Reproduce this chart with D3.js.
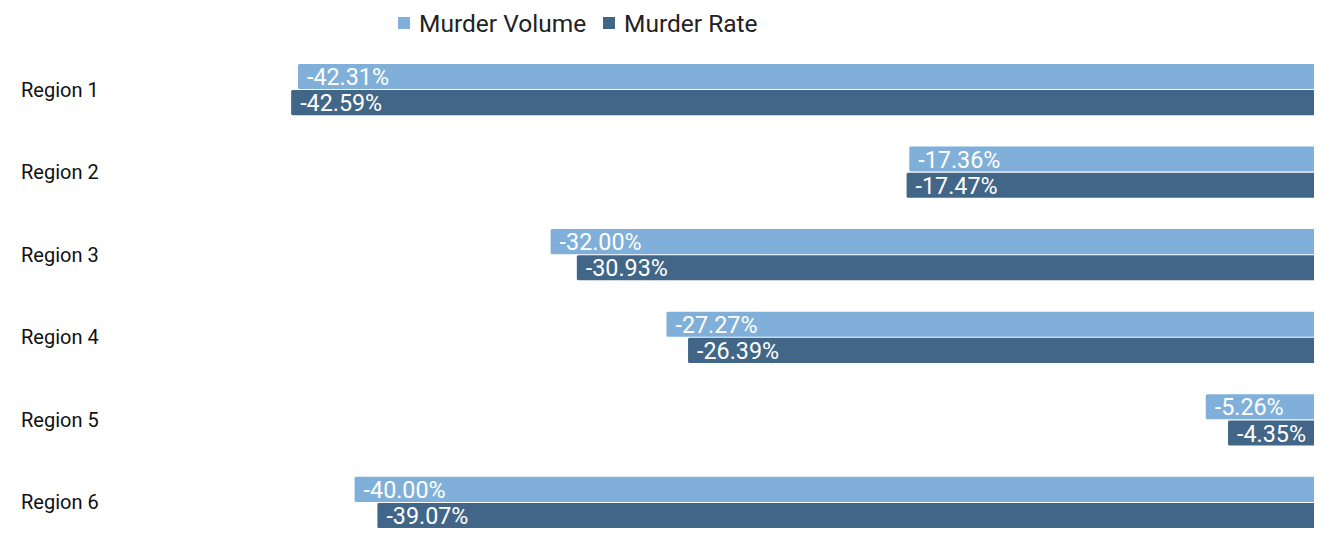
<!DOCTYPE html>
<html>
<head>
<meta charset="utf-8">
<script src="https://cdn.jsdelivr.net/npm/d3@7"></script>
<style>
  body { margin: 0; background: #fff; }
  svg text { font-family: Roboto, "Noto Sans", sans-serif; }
</style>
</head>
<body>
<svg width="1323" height="540"></svg>
<script>
// data
let regions = ["Region 1", "Region 2", "Region 3", "Region 4", "Region 5", "Region 6"];
let seriesNames = ["Murder Volume", "Murder Rate"];
let murderVolume = [-42.31, -17.36, -32.00, -27.27, -5.26, -40.00];
let murderRate = [-42.59, -17.47, -30.93, -26.39, -4.35, -39.07];
let colors = ["#80b0d9", "#426688"];

let rows = regions.map((r, i) => ({
  region: r,
  values: [
    { key: seriesNames[0], value: murderVolume[i] },
    { key: seriesNames[1], value: murderRate[i] }
  ]
}));

let svg = d3.select("svg"),
  width = +svg.attr("width"),
  height = +svg.attr("height");

let plotRight = 1314;

// zero sits just past the right edge of the plot, bars get clipped there
let x = d3.scaleLinear()
  .domain([-44, 0])
  .range([256.6, 1334.6]);

let y = d3.scaleBand()
  .domain(regions)
  .range([32.6, 559.4])
  .padding(0.38);

let ySub = d3.scaleBand()
  .domain(seriesNames)
  .range([0, y.bandwidth()])
  .paddingInner(0.04);

let color = d3.scaleOrdinal()
  .domain(seriesNames)
  .range(colors);

svg.append("defs").append("clipPath")
  .attr("id", "plot-clip")
  .append("rect")
  .attr("x", 0).attr("y", 0)
  .attr("width", plotRight).attr("height", height);

// region labels
svg.append("g")
  .attr("class", "y-labels")
  .selectAll("text")
  .data(regions)
  .enter().append("text")
  .attr("x", 21)
  .attr("y", d => y(d) + y.bandwidth() / 2)
  .attr("dy", "0.35em")
  .attr("font-size", "20px")
  .attr("fill", "#111")
  .text(d => d);

let groups = svg.append("g")
  .attr("class", "bars")
  .attr("clip-path", "url(#plot-clip)")
  .selectAll("g")
  .data(rows)
  .enter().append("g")
  .attr("transform", d => `translate(0,${y(d.region)})`);

groups.selectAll("rect")
  .data(d => d.values)
  .enter().append("rect")
  .attr("x", d => x(d.value))
  .attr("y", d => ySub(d.key))
  .attr("width", d => x(0) - x(d.value))
  .attr("height", ySub.bandwidth())
  .attr("rx", 1.5)
  .attr("fill", d => color(d.key));

groups.selectAll("text")
  .data(d => d.values)
  .enter().append("text")
  .attr("x", d => x(d.value) + 9)
  .attr("y", d => ySub(d.key) + ySub.bandwidth() / 2)
  .attr("dy", "0.37em")
  .attr("font-size", "23.3px")
  .attr("fill", "#fff")
  .text(d => d.value.toFixed(2) + "%");

// legend
let legendPos = [398, 603];
let legend = svg.append("g")
  .attr("class", "legend")
  .selectAll("g")
  .data(seriesNames)
  .enter().append("g")
  .attr("transform", (d, i) => `translate(${legendPos[i]},23)`);

legend.append("rect")
  .attr("x", 0).attr("y", -6)
  .attr("width", 12).attr("height", 12)
  .attr("fill", d => color(d));

legend.append("text")
  .attr("x", 21)
  .attr("dy", "0.35em")
  .attr("font-size", "24.5px")
  .attr("fill", "#222")
  .text(d => d);
</script>
</body>
</html>
